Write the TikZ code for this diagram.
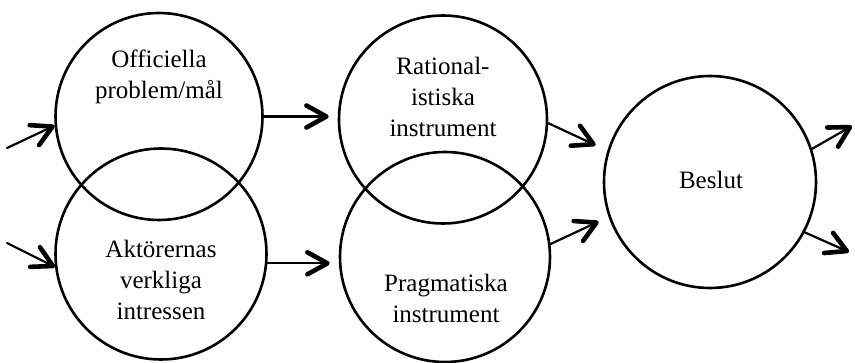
\documentclass[tikz,border=0pt]{standalone}
\usepackage{fontspec}
\setmainfont{Liberation Serif}
\usetikzlibrary{arrows.meta}
\begin{document}
\begin{tikzpicture}[x=1pt,y=-1pt,
  circ/.style={circle,draw,line width=2.6pt,inner sep=0pt},
  lbl/.style={align=center,font=\fontsize{25}{31}\selectfont,inner sep=0pt,anchor=base},
  arr/.style={line width=2.2pt,line cap=round,-{Straight Barb[length=20pt,width=22pt,line width=4.6pt,round]}}]
\useasboundingbox (0,0) rectangle (855,363);
\node[circ,minimum size=207pt] (c1) at (159,116.5) {};
\node[circ,minimum size=211pt] (c2) at (161,254) {};
\node[circ,minimum size=208pt] (c3) at (443,119.5) {};
\node[circ,minimum size=210pt] (c4) at (445,257) {};
\node[circ,minimum size=212pt] (c5) at (710,182) {};
\node[lbl] (t1) at (159,99) {Officiella\\problem/mål};
\node[lbl] (t2) at (161,320) {Aktörernas\\verkliga\\intressen};
\node[lbl] (t3) at (443,137) {Rational-\\istiska\\instrument};
\node[lbl] (t4) at (446,323) {Pragmatiska\\instrument};
\node[lbl] (t5) at (711,189) {Beslut};
\coordinate (in1) at (7,148);
\coordinate (in2) at (7,243);
\coordinate (out1) at (852,126);
\coordinate (out2) at (849,252);
\draw[arr] (in1) -- (c1.185);
\draw[arr] (in2) -- (c2.187);
\draw[arr,shorten >=9pt] (c1.east) -- (c1.east -| c3.west);
\draw[arr,shorten >=9pt] (c2.-5) -- (c2.-5 -| c4.west);
\draw[arr,shorten >=13pt] (c3.-2) -- (c5.163);
\draw[arr,shorten >=11pt] (c4.7.5) -- (c5.199);
\draw[arr] (c5.18) -- (out1);
\draw[arr] (c5.-28) -- (out2);
\end{tikzpicture}
\end{document}
